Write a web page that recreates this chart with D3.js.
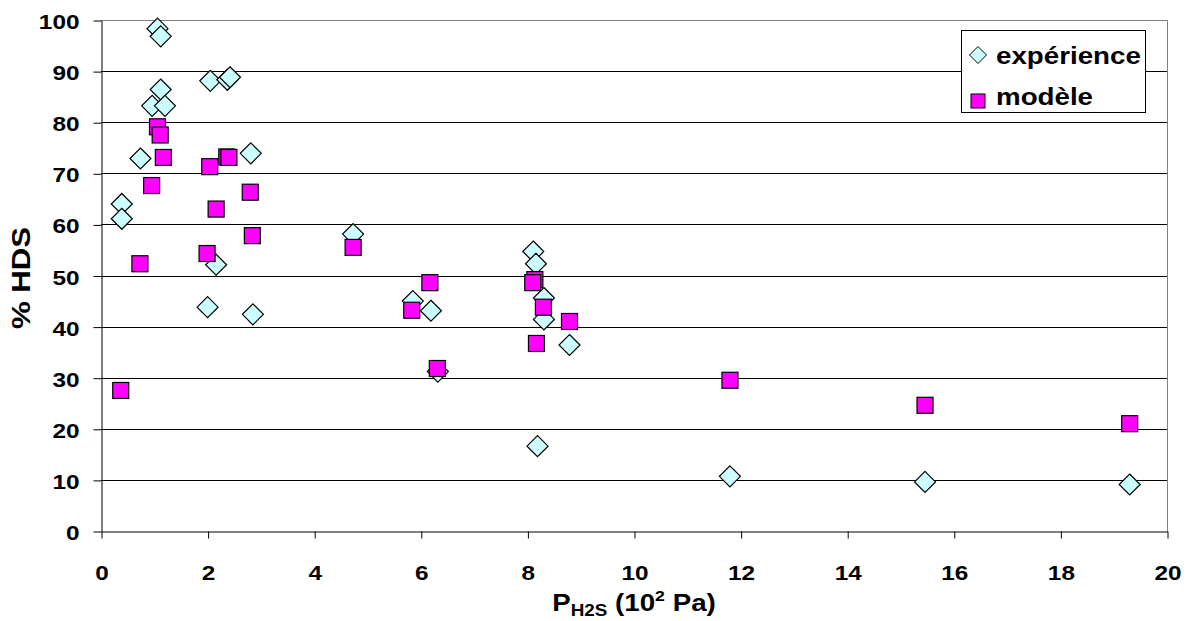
<!DOCTYPE html>
<html><head><meta charset="utf-8">
<script src="https://cdn.jsdelivr.net/npm/d3@7"></script>
<style>
body{margin:0;background:#fff}
svg{display:block}
text{font-family:"Liberation Sans",Arial,sans-serif;font-weight:bold;fill:#000}
</style>
</head><body>
<svg id="c" width="1190" height="621"></svg>
<script>
// ---- data ----
const xTicks = [0,2,4,6,8,10,12,14,16,18,20];
const yTicks = [0,10,20,30,40,50,60,70,80,90,100];
const seriesNames = ["expérience","modèle"];
const expX = [1.06,1.12,1.12,0.96,1.20,2.05,2.37,2.42,0.74,2.81,0.39,0.39,2.16,2.00,2.85,4.73,5.85,6.19,6.32,8.11,8.16,8.31,8.31,8.79,8.19,11.80,15.46,19.30];
const expY = [98.3,96.8,86.4,83.2,83.2,88.1,88.3,88.8,72.9,73.9,64.0,61.1,52.1,43.8,42.4,58.1,45.0,43.1,31.2,54.7,52.3,45.6,41.4,36.4,16.6,10.7,9.6,9.1];
const modX = [1.06,1.11,1.17,2.04,2.36,2.40,0.95,2.80,2.16,2.84,0.73,1.99,0.37,4.73,6.17,5.83,6.31,8.14,8.10,8.30,8.79,8.17,11.80,15.46,19.30];
const modY = [79.1,77.5,73.1,71.3,73.2,73.1,67.6,66.3,63.0,57.8,52.3,54.3,27.5,55.5,48.6,43.2,31.8,49.2,48.6,43.8,41.0,36.7,29.5,24.6,21.0];

const svg = d3.select("#c");
const x = d3.scaleLinear().domain([0,20]).range([101,1167]);
const y = d3.scaleLinear().domain([0,100]).range([531,20]);
const SX = 1.16;

// gridlines
svg.append("g").selectAll("line").data(yTicks.filter(d=>d>0&&d<100)).join("line")
  .attr("x1",x(0)).attr("x2",x(20))
  .attr("y1",d=>Math.round(y(d))+0.5).attr("y2",d=>Math.round(y(d))+0.5)
  .attr("stroke","#000").attr("stroke-width",1);
// plot border (top/right)
svg.append("path")
  .attr("d",`M${x(0)},${Math.round(y(100))+0.5}H${Math.round(x(20))+0.5}V${y(0)}`)
  .attr("stroke","#808080").attr("fill","none");

// axes
const ax = svg.append("g").attr("transform",`translate(0.5,${Math.round(y(0))+0.5})`)
  .call(d3.axisBottom(x).tickValues(xTicks).tickSize(7).tickSizeOuter(0).tickFormat(d3.format("d")));
const ay = svg.append("g").attr("transform",`translate(${Math.round(x(0))+0.5},0.5)`)
  .call(d3.axisLeft(y).tickValues(yTicks).tickSize(8).tickSizeOuter(0).tickFormat(d3.format("d")));
[ax,ay].forEach(g=>{
  g.attr("font-size",21).attr("font-family",'"Liberation Sans",Arial,sans-serif').attr("font-weight","bold");
  g.selectAll("path,line").attr("stroke","#000");
});
ax.selectAll(".tick text").attr("y",0).attr("dy",null).attr("fill","#000")
  .attr("transform",`translate(0,48.5) scale(${SX},1)`);
ay.selectAll(".tick text").attr("x",0).attr("dy",null).attr("fill","#000")
  .attr("transform",`translate(-22,8) scale(${SX},1)`);

// markers
const diamond = s=>`M0,${-s}L${s},0L0,${s}L${-s},0Z`;
svg.append("g").selectAll("path").data(expX.map((d,i)=>[d,expY[i]])).join("path")
  .attr("d",diamond(10.5))
  .attr("transform",d=>`translate(${x(d[0])},${y(d[1])})`)
  .attr("fill","#ccffff").attr("stroke","#000").attr("stroke-width",1.2);
svg.append("g").selectAll("rect").data(modX.map((d,i)=>[d,modY[i]])).join("rect")
  .attr("x",d=>x(d[0])-8).attr("y",d=>y(d[1])-8).attr("width",16).attr("height",16)
  .attr("fill","#ff00ff").attr("stroke","#000").attr("stroke-width",1.2);

// legend
const lg = svg.append("g");
lg.append("rect").attr("x",961.5).attr("y",30.5).attr("width",184).attr("height",82)
  .attr("fill","#fff").attr("stroke","#000");
lg.append("path").attr("d",diamond(8.5)).attr("transform","translate(978,55)")
  .attr("fill","#ccffff").attr("stroke","#000");
lg.append("rect").attr("x",971).attr("y",94).attr("width",14).attr("height",14)
  .attr("fill","#ff00ff").attr("stroke","#000");
lg.append("text").attr("transform",`translate(996,64) scale(1.18,1)`).attr("font-size",23.5).text(seriesNames[0]);
lg.append("text").attr("transform",`translate(996,105) scale(1.18,1)`).attr("font-size",23.5).text(seriesNames[1]);

// x title
const xt = svg.append("text").attr("text-anchor","middle")
  .attr("transform",`translate(634,611) scale(1.18,1)`).attr("font-size",23.5);
xt.append("tspan").text("P");
xt.append("tspan").attr("font-size",16).attr("dy",5).text("H2S");
xt.append("tspan").attr("dy",-5).text(" (10");
xt.append("tspan").attr("font-size",15).attr("dy",-10).text("2");
xt.append("tspan").attr("dy",10).text(" Pa)");

// y title
svg.append("text").attr("text-anchor","middle")
  .attr("transform",`translate(30,278) rotate(-90) scale(1.2,1)`)
  .attr("font-size",26).text("% HDS");
</script>
</body></html>
